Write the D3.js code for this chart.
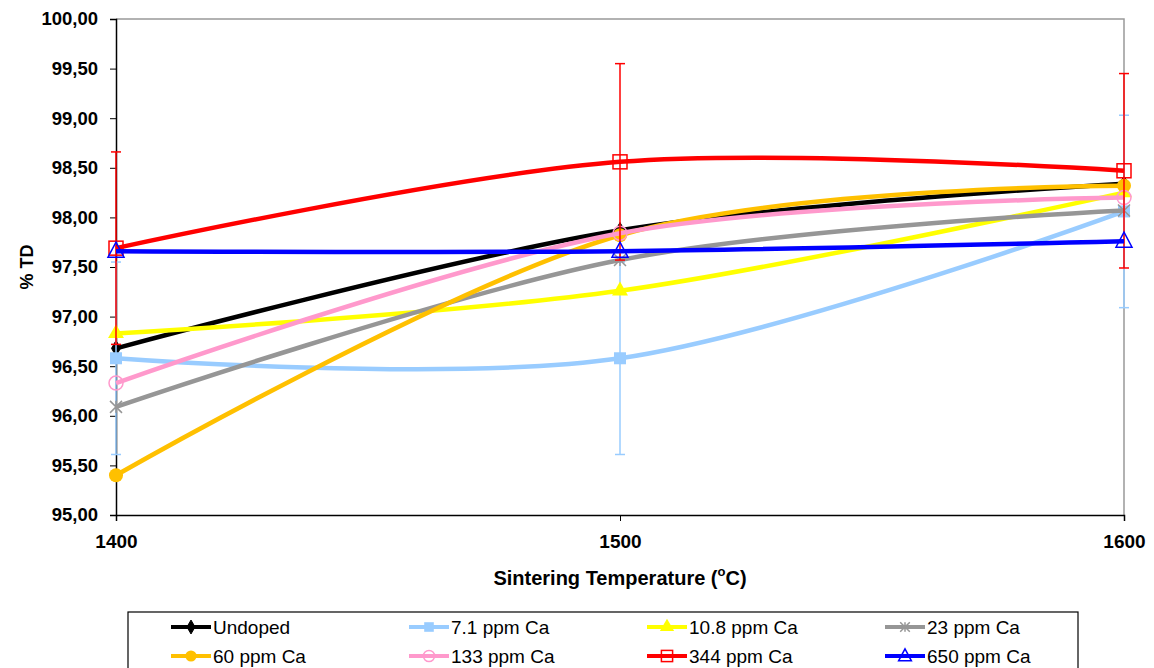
<!DOCTYPE html>
<html>
<head>
<meta charset="utf-8">
<script src="https://cdn.jsdelivr.net/npm/d3@7"></script>
<style>
  body { margin: 0; background: #fff; }
  svg { display: block; font-family: "Liberation Sans", Arial, sans-serif; }
</style>
</head>
<body>
<div id="chart"></div>
<script>
// values
const temps = [1400, 1500, 1600];
const yTicks = [95, 95.5, 96, 96.5, 97, 97.5, 98, 98.5, 99, 99.5, 100];

const undoped = [96.68, 97.87, 98.34];
const ca7_1 = [96.58, 96.58, 98.06];
const ca10_8 = [96.83, 97.26, 98.25];
const ca23 = [96.09, 97.57, 98.07];
const ca60 = [95.40, 97.82, 98.32];
const ca133 = [96.33, 97.84, 98.20];
const ca344 = [97.69, 98.56, 98.47];
const ca650 = [97.66, 97.66, 97.76];

const ca7_1Err = [0.97, 0.97, 0.97];
const ca344Err = [0.97, 0.99, 0.98];

const series = [
    {name: 'Undoped',     values: undoped, color: '#000000', marker: 'diamond'},
    {name: '7.1 ppm Ca',  values: ca7_1,   color: '#99CCFF', marker: 'square', err: ca7_1Err},
    {name: '10.8 ppm Ca', values: ca10_8,  color: '#FFFF00', marker: 'triangle'},
    {name: '23 ppm Ca',   values: ca23,    color: '#969696', marker: 'star'},
    {name: '60 ppm Ca',   values: ca60,    color: '#FFC000', marker: 'circle'},
    {name: '133 ppm Ca',  values: ca133,   color: '#FF99CC', marker: 'opencircle'},
    {name: '344 ppm Ca',  values: ca344,   color: '#FF0000', marker: 'opensquare', err: ca344Err},
    {name: '650 ppm Ca',  values: ca650,   color: '#0000FF', marker: 'opentriangle'}
];

const width = 1154, height = 668;
const margin = {left: 116, right: 30, top: 19, bottom: 153};
const FONT = '"Liberation Sans", Arial, sans-serif';

const svg = d3.select('#chart').append('svg')
    .attr('width', width).attr('height', height);

const x = d3.scaleLinear().domain([1400, 1600]).range([margin.left, width - margin.right]);
const y = d3.scaleLinear().domain([95, 100]).range([height - margin.bottom, margin.top]);

// plot frame (top + right in gray)
svg.append('path')
    .attr('d', `M${x(1400)},${y(100)}H${x(1600)}V${y(95)}`)
    .attr('fill', 'none').attr('stroke', '#999').attr('stroke-width', 1.5);

const fmt = d => d3.format('.2f')(d).replace('.', ',');

const yAxis = svg.append('g')
    .attr('transform', `translate(${x(1400)},0)`)
    .call(d3.axisLeft(y).tickValues(yTicks).tickFormat(fmt).tickSize(6).tickPadding(12));
yAxis.selectAll('text').attr('font-size', 18.5).attr('font-weight', 'bold').attr('fill', '#000')
    .attr('font-family', FONT);

const xAxis = svg.append('g')
    .attr('transform', `translate(0,${y(95)})`)
    .call(d3.axisBottom(x).tickValues(temps).tickFormat(d3.format('d')).tickSize(6).tickPadding(14));
xAxis.selectAll('text').attr('font-size', 19).attr('font-weight', 'bold').attr('fill', '#000')
    .attr('font-family', FONT);

[yAxis, xAxis].forEach(a => {
    a.select('.domain').attr('stroke', '#000').attr('stroke-width', 1.5);
    a.selectAll('.tick line').attr('stroke', '#000');
});

// axis titles
svg.append('text')
    .attr('transform', `translate(33,${(y(95) + y(100)) / 2}) rotate(-90)`)
    .attr('text-anchor', 'middle')
    .attr('font-size', 18).attr('font-weight', 'bold')
    .text('% TD');

const xt = svg.append('text')
    .attr('x', (x(1400) + x(1600)) / 2).attr('y', 585)
    .attr('text-anchor', 'middle')
    .attr('font-size', 20).attr('font-weight', 'bold');
xt.append('tspan').text('Sintering Temperature (');
xt.append('tspan').attr('font-size', 13).attr('dy', -9).text('o');
xt.append('tspan').attr('dy', 9).text('C)');

// marker drawing
function drawMarker(sel, type, color, size) {
    const s = size || 1;
    if (type === 'diamond') {
        sel.append('path').attr('d', d3.symbol(d3.symbolDiamond, 70 * s)())
            .attr('fill', color).attr('stroke', color);
    } else if (type === 'square') {
        sel.append('rect').attr('x', -6 * s).attr('y', -6 * s).attr('width', 12 * s).attr('height', 12 * s)
            .attr('fill', color);
    } else if (type === 'triangle') {
        sel.append('path').attr('d', d3.symbol(d3.symbolTriangle, 110 * s)())
            .attr('fill', color);
    } else if (type === 'star') {
        const r = 6 * s;
        sel.append('path')
            .attr('d', `M${-r},${-r}L${r},${r}M${-r},${r}L${r},${-r}M0,${-r}V${r}`)
            .attr('stroke', color).attr('stroke-width', 1.5).attr('fill', 'none');
    } else if (type === 'circle') {
        sel.append('circle').attr('r', 7 * s).attr('fill', color);
    } else if (type === 'opencircle') {
        sel.append('circle').attr('r', 7 * s).attr('fill', 'none')
            .attr('stroke', color).attr('stroke-width', 1.5);
    } else if (type === 'opensquare') {
        sel.append('rect').attr('x', -7 * s).attr('y', -7 * s).attr('width', 14 * s).attr('height', 14 * s)
            .attr('fill', 'none').attr('stroke', color).attr('stroke-width', 1.5);
    } else if (type === 'opentriangle') {
        sel.append('path').attr('d', `M0,${-9 * s}L${8 * s},${6 * s}H${-8 * s}Z`)
            .attr('fill', 'none').attr('stroke', color).attr('stroke-width', 1.5);
    }
}

const line = d3.line()
    .x((d, i) => x(temps[i]))
    .y(d => y(d))
    .curve(d3.curveCardinal.tension(0));

const plot = svg.append('g');

series.forEach(s => {
    const g = plot.append('g');
    if (s.err) {
        s.values.forEach((v, i) => {
            const cx = x(temps[i]);
            const lo = y(v - s.err[i]), hi = y(v + s.err[i]);
            g.append('line').attr('x1', cx).attr('x2', cx).attr('y1', lo).attr('y2', hi)
                .attr('stroke', s.color).attr('stroke-width', 1.5);
            [lo, hi].forEach(yy => g.append('line')
                .attr('x1', cx - 5).attr('x2', cx + 5).attr('y1', yy).attr('y2', yy)
                .attr('stroke', s.color).attr('stroke-width', 1.5));
        });
    }
    g.append('path').datum(s.values).attr('d', line)
        .attr('fill', 'none').attr('stroke', s.color).attr('stroke-width', 4.5);
    s.values.forEach((v, i) => {
        const m = g.append('g').attr('transform', `translate(${x(temps[i])},${y(v)})`);
        drawMarker(m, s.marker, s.color);
    });
});

// legend
const legend = svg.append('g');
legend.append('rect')
    .attr('x', 128).attr('y', 612).attr('width', 950).attr('height', 80)
    .attr('fill', '#fff').attr('stroke', '#000').attr('stroke-width', 1.2);

series.forEach((s, i) => {
    const col = i % 4, row = Math.floor(i / 4);
    const lx = 171 + col * 238, ly = 627 + row * 29;
    const item = legend.append('g').attr('transform', `translate(${lx},${ly})`);
    item.append('line').attr('x1', 0).attr('x2', 40).attr('y1', 0).attr('y2', 0)
        .attr('stroke', s.color).attr('stroke-width', 4);
    drawMarker(item.append('g').attr('transform', 'translate(20,0)'), s.marker, s.color, 0.8);
    item.append('text').attr('x', 42).attr('y', 0).attr('dy', '0.36em')
        .attr('font-size', 19).text(s.name);
});
</script>
</body>
</html>
